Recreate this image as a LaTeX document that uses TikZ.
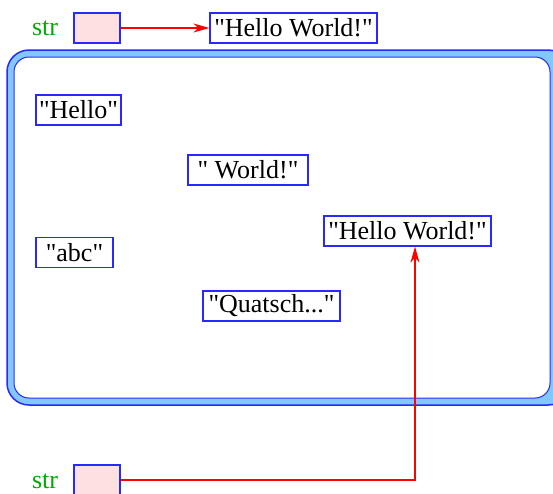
\documentclass[tikz,border=0pt]{standalone}
\usepackage{fontspec}
\setmainfont{Liberation Serif}[Ligatures=TeXOff]
\usetikzlibrary{arrows.meta}
\definecolor{bblue}{RGB}{40,40,255}
\definecolor{lblue}{RGB}{130,200,255}
\definecolor{pinkf}{RGB}{255,224,224}
\definecolor{gtext}{RGB}{0,170,0}
\begin{document}
\begin{tikzpicture}[x=1pt,y=-1pt,
  strbox/.style={draw=bblue,line width=1.2pt,fill=white,inner sep=0pt,minimum height=30pt,font=\fontsize{26}{30}\selectfont},
  ptrbox/.style={draw=bblue,line width=1.2pt,fill=pinkf,inner sep=0pt,minimum width=46pt,minimum height=30pt},
  lbl/.style={text=gtext,inner sep=0pt,font=\fontsize{26}{30}\selectfont},
  arr/.style={draw=red,line width=1.2pt,-{Stealth[length=16pt,width=9pt,inset=5pt]}}]
\useasboundingbox (0,0) rectangle (553,493);
\clip (0,0) rectangle (553,493);
% big memory box
\draw[draw=bblue,line width=1.5pt,fill=lblue,rounded corners=22pt] (7,50) rectangle (570,405);
\draw[draw=bblue,line width=1pt,fill=white,rounded corners=15pt] (14,57) rectangle (550,398);
% top variable
\node[lbl] (str1) at (45,28) {str};
\node[ptrbox] (p1) at (97,28) {};
\node[strbox,minimum width=167pt] (hw1) at (293.5,28) {"Hello World!"};
% strings inside
\node[strbox,minimum width=85pt] (hello) at (78.5,110) {"Hello"};
\node[strbox,minimum width=120pt] (world) at (248,170) {" World!"};
\node[strbox,minimum width=167pt] (hw2) at (407.5,231) {"Hello World!"};
\node[strbox,minimum width=77pt] (abc) at (74.5,252.5) {"abc"};
\node[strbox,minimum width=137pt] (quatsch) at (271.5,306) {"Quatsch..."};
% bottom variable
\node[lbl] (str2) at (45,481) {str};
\node[ptrbox] (p2) at (97,480) {};
\coordinate (hw2in) at ([xshift=7.5pt]hw2.south);
% connectors
\draw[arr] (p1.east) -- (hw1.west);
\draw[arr] (p2.east) -| (hw2in);
\end{tikzpicture}
\end{document}
